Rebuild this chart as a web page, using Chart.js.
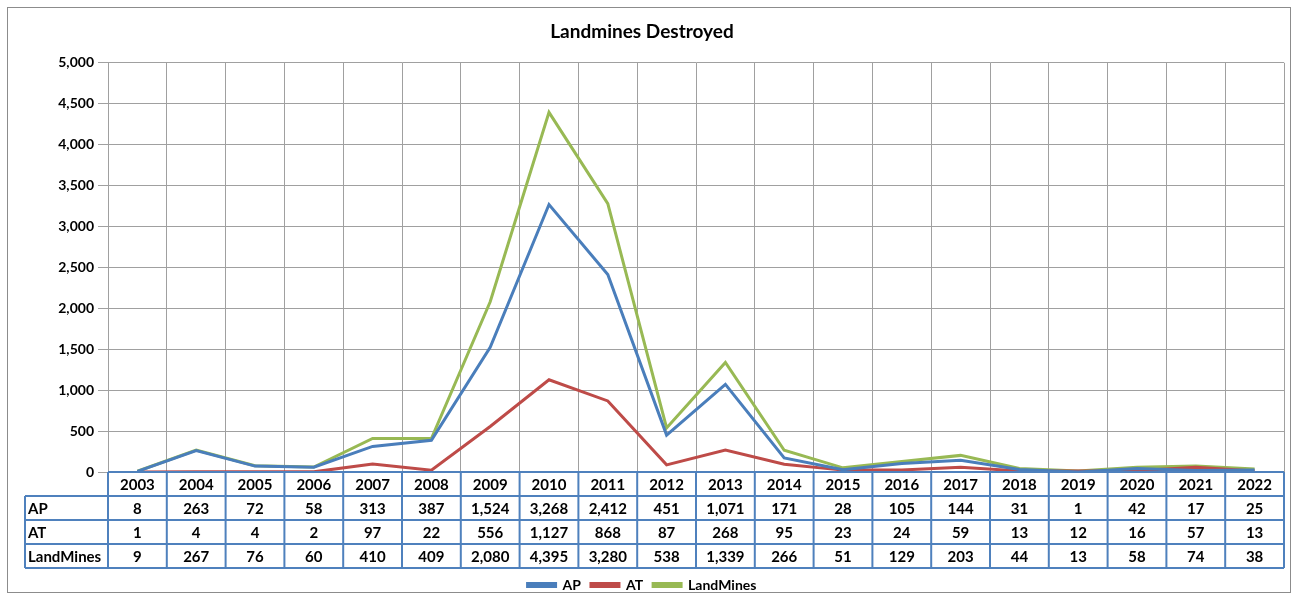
<!DOCTYPE html>
<html>
<head>
<meta charset="utf-8">
<script src="https://cdn.jsdelivr.net/npm/chart.js@4/dist/chart.umd.min.js"></script>
<style>
  body { margin: 0; background: #fff; }
  #wrap { width: 1295px; height: 606px; }
</style>
</head>
<body>
<div id="wrap"><canvas id="mineChart" width="1295" height="606"></canvas></div>
<script>
// Chart data
const years = ['2003', '2004', '2005', '2006', '2007', '2008', '2009', '2010', '2011', '2012',
               '2013', '2014', '2015', '2016', '2017', '2018', '2019', '2020', '2021', '2022'];
const apValues = [8, 263, 72, 58, 313, 387, 1524, 3268, 2412, 451, 1071, 171, 28, 105, 144, 31, 1, 42, 17, 25];
const atValues = [1, 4, 4, 2, 97, 22, 556, 1127, 868, 87, 268, 95, 23, 24, 59, 13, 12, 16, 57, 13];
const landMineValues = [9, 267, 76, 60, 410, 409, 2080, 4395, 3280, 538, 1339, 266, 51, 129, 203, 44, 13, 58, 74, 38];

const FONT = 'Lato, "Liberation Sans", sans-serif';
const tableBlue = '#4F81BD';

// draws the grey outer frame and the data table under the x axis
const dataTablePlugin = {
    id: 'dataTable',
    afterDraw(chart) {
        const ctx = chart.ctx;
        const xs = chart.scales.x;
        const area = chart.chartArea;
        const n = years.length;
        const cellW = (area.right - area.left) / n;
        const rowH = 24;
        const top = area.bottom;
        const labelLeft = 25;
        const rows = [
            { label: 'AP', data: apValues },
            { label: 'AT', data: atValues },
            { label: 'LandMines', data: landMineValues }
        ];

        ctx.save();
        // outer frame
        ctx.strokeStyle = '#8c8c8c';
        ctx.lineWidth = 1;
        ctx.strokeRect(7.5, 7.5, 1283, 585);

        ctx.font = 'bold 15px ' + FONT;
        ctx.fillStyle = '#000';
        ctx.textBaseline = 'middle';

        // year row
        ctx.textAlign = 'center';
        years.forEach((y, i) => {
            ctx.fillText(y, xs.getPixelForValue(i), top + rowH / 2 + 1);
        });
        // value rows
        rows.forEach((row, r) => {
            const cy = top + rowH * (r + 1) + rowH / 2 + 1;
            ctx.textAlign = 'left';
            ctx.fillText(row.label, labelLeft + 3, cy);
            ctx.textAlign = 'center';
            row.data.forEach((v, i) => {
                ctx.fillText(v.toLocaleString('en-US'), xs.getPixelForValue(i), cy);
            });
        });

        // borders
        ctx.strokeStyle = tableBlue;
        ctx.lineWidth = 2;
        ctx.beginPath();
        for (let r = 0; r <= 4; r++) {
            const y = top + rowH * r;
            ctx.moveTo(r === 0 ? area.left : labelLeft, y);
            ctx.lineTo(area.right, y);
        }
        for (let i = 0; i <= n; i++) {
            const x = area.left + cellW * i;
            ctx.moveTo(x, top);
            ctx.lineTo(x, top + rowH * 4);
        }
        ctx.moveTo(labelLeft, top + rowH);
        ctx.lineTo(labelLeft, top + rowH * 4);
        ctx.stroke();
        ctx.restore();
    }
};

const ctx = document.getElementById('mineChart').getContext('2d');
const mineChart = new Chart(ctx, {
    type: 'line',
    data: {
        labels: years,
        datasets: [
            {
                label: 'AP',
                data: apValues,
                borderColor: '#4A7EBB',
                backgroundColor: '#4A7EBB',
                borderWidth: 3,
                pointRadius: 0,
                tension: 0
            },
            {
                label: 'AT',
                data: atValues,
                borderColor: '#BE4B48',
                backgroundColor: '#BE4B48',
                borderWidth: 3,
                pointRadius: 0,
                tension: 0
            },
            {
                label: 'LandMines',
                data: landMineValues,
                borderColor: '#98B954',
                backgroundColor: '#98B954',
                borderWidth: 3,
                pointRadius: 0,
                tension: 0
            }
        ]
    },
    options: {
        responsive: false,
        animation: false,
        layout: {
            padding: { left: 0, right: 11, top: 12, bottom: 4 }
        },
        plugins: {
            title: {
                display: true,
                text: 'Landmines Destroyed',
                color: '#000',
                font: { family: FONT, size: 19, weight: 'bold' },
                padding: { top: 8, bottom: 20 }
            },
            legend: {
                position: 'bottom',
                labels: {
                    color: '#000',
                    font: { family: FONT, size: 14, weight: 'bold' },
                    boxWidth: 28,
                    boxHeight: 3,
                    padding: 10
                }
            },
            tooltip: { enabled: false }
        },
        scales: {
            x: {
                offset: true,
                grid: { offset: true, color: '#a0a0a0', drawTicks: false },
                border: { color: '#a0a0a0' },
                ticks: { display: false },
                afterFit(scale) { scale.height = 96; }
            },
            y: {
                min: 0,
                max: 5000,
                ticks: {
                    stepSize: 500,
                    color: '#000',
                    font: { family: FONT, size: 14, weight: 'bold' },
                    padding: 4,
                    callback: v => v.toLocaleString('en-US')
                },
                grid: { color: '#a0a0a0', tickLength: 10 },
                border: { color: '#a0a0a0' },
                afterFit(scale) { scale.width = 108; }
            }
        }
    },
    plugins: [dataTablePlugin]
});
</script>
</body>
</html>
